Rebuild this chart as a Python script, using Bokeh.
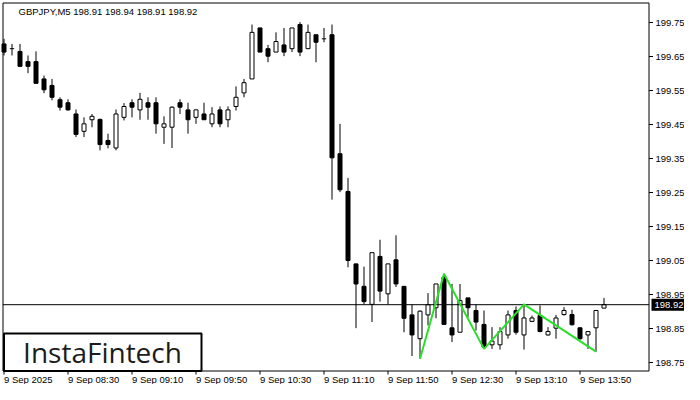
from bokeh.plotting import figure
from bokeh.models import Range1d
from bokeh.embed import file_html
from bokeh.resources import INLINE
from bokeh.core.properties import value

title_text = "GBPJPY,M5  198.91 198.94 198.91 198.92"
logo_text = "InstaFintech"

opens = [199.687, 199.673, 199.665, 199.635, 199.635, 199.584, 199.565, 199.523, 199.514, 199.481,
         199.430, 199.464, 199.465, 199.403, 199.381, 199.471, 199.514, 199.493, 199.514, 199.514,
         199.442, 199.442, 199.514, 199.493, 199.471, 199.481, 199.452, 199.493, 199.464, 199.503,
         199.543, 199.584, 199.734, 199.673, 199.663, 199.684, 199.673, 199.744, 199.673, 199.714,
         199.702, 199.714, 199.364, 199.253, 199.040, 198.974, 198.921, 199.062, 198.952, 199.052,
         198.974, 198.890, 198.820, 198.890, 198.911, 199.001, 198.852, 198.839, 198.940, 198.903,
         198.862, 198.802, 198.802, 198.831, 198.903, 198.831, 198.871, 198.888, 198.831, 198.851,
         198.891, 198.891, 198.852, 198.831, 198.852, 198.910]

highs = [199.702, 199.687, 199.687, 199.653, 199.665, 199.594, 199.584, 199.530, 199.524, 199.494,
         199.471, 199.481, 199.467, 199.423, 199.494, 199.513, 199.524, 199.543, 199.530, 199.530,
         199.474, 199.503, 199.524, 199.514, 199.493, 199.514, 199.501, 199.503, 199.503, 199.562,
         199.584, 199.744, 199.734, 199.684, 199.721, 199.734, 199.734, 199.751, 199.744, 199.714,
         199.734, 199.744, 199.452, 199.293, 199.040, 199.032, 199.073, 199.111, 199.040, 199.124,
         198.974, 198.921, 198.903, 198.954, 198.981, 199.011, 198.981, 198.981, 198.940, 198.921,
         198.903, 198.854, 198.854, 198.903, 198.915, 198.921, 198.888, 198.918, 198.854, 198.890,
         198.913, 198.905, 198.854, 198.841, 198.903, 198.940]

lows = [199.653, 199.653, 199.621, 199.601, 199.571, 199.542, 199.521, 199.491, 199.491, 199.413,
        199.413, 199.442, 199.374, 199.380, 199.374, 199.462, 199.471, 199.464, 199.464, 199.423,
        199.393, 199.381, 199.481, 199.423, 199.452, 199.464, 199.442, 199.442, 199.442, 199.491,
        199.530, 199.584, 199.663, 199.633, 199.663, 199.651, 199.663, 199.651, 199.673, 199.633,
        199.692, 199.229, 199.251, 199.030, 198.851, 198.921, 198.869, 198.929, 198.921, 198.972,
        198.839, 198.769, 198.761, 198.859, 198.880, 198.862, 198.810, 198.839, 198.883, 198.844,
        198.790, 198.790, 198.788, 198.820, 198.832, 198.788, 198.869, 198.839, 198.829, 198.820,
        198.888, 198.859, 198.817, 198.790, 198.782, 198.910]

closes = [199.663, 199.673, 199.621, 199.621, 199.571, 199.552, 199.530, 199.501, 199.493, 199.421,
          199.452, 199.474, 199.391, 199.391, 199.481, 199.503, 199.501, 199.524, 199.501, 199.452,
          199.452, 199.501, 199.501, 199.464, 199.493, 199.464, 199.481, 199.452, 199.493, 199.530,
          199.573, 199.721, 199.663, 199.651, 199.694, 199.663, 199.734, 199.663, 199.721, 199.692,
          199.702, 199.352, 199.258, 199.050, 198.981, 198.929, 199.073, 198.960, 199.040, 198.981,
          198.880, 198.831, 198.901, 198.920, 198.981, 198.862, 198.831, 198.932, 198.911, 198.869,
          198.795, 198.813, 198.841, 198.890, 198.839, 198.881, 198.881, 198.841, 198.841, 198.881,
          198.903, 198.861, 198.820, 198.841, 198.903, 198.920]

tick_bars = [0, 8, 16, 24, 32, 40, 48, 56, 64, 72]
tick_labels = ["9 Sep 2025", "9 Sep 08:30", "9 Sep 09:10", "9 Sep 09:50", "9 Sep 10:30",
               "9 Sep 11:10", "9 Sep 11:50", "9 Sep 12:30", "9 Sep 13:10", "9 Sep 13:50"]
price_ticks = [198.75, 198.85, 198.95, 199.05, 199.15, 199.25, 199.35, 199.45, 199.55, 199.65, 199.75]

pattern_bars = [52, 55, 60, 65, 74]
pattern_prices = [198.761, 199.011, 198.790, 198.921, 198.782]

last_price = 198.92

# ---- layout (pixels on the canvas) ----
W, H = 684, 384
PXB = 8.0          # pixels per bar
PXU = 340.0        # pixels per price unit
X0 = -3.5 / PXB    # bar 0 sits at canvas x = 3.5
YT = 199.75 + 22.0 / PXU   # price 199.75 sits at canvas y = 22


def dx(px):
    return X0 + px / PXB


def dy(py):
    return YT - py / PXU


BOX_L, BOX_R, BOX_T, BOX_B = 2.5, 648.5, 2.5, 370.5
FONT = value("Liberation Sans")
FS = value("9.5px")

p = figure(width=W, height=H, output_backend="svg", toolbar_location=None, tools="",
           x_range=Range1d(dx(0), dx(W)), y_range=Range1d(dy(H), dy(0)),
           x_axis_location=None, y_axis_location=None, min_border=0)
p.outline_line_color = None
p.background_fill_color = "white"
p.border_fill_color = "white"
for g in p.grid:
    g.visible = False

# chart frame
p.quad(left=[dx(BOX_L)], right=[dx(BOX_R)], top=[dy(BOX_T)], bottom=[dy(BOX_B)],
       fill_color=None, line_color="black", line_width=1)

# candles
n = len(opens)
bars = list(range(n))
p.segment(x0=bars, y0=lows, x1=bars, y1=highs, line_color="black", line_width=1)

bx, btop, bbot, bfill = [], [], [], []
dx0, dx1, dyy = [], [], []
for i, (o, c) in enumerate(zip(opens, closes)):
    if abs(o - c) < 0.0005:
        dx0.append(i - 0.27)
        dx1.append(i + 0.27)
        dyy.append(o)
    else:
        bx.append(i)
        btop.append(max(o, c))
        bbot.append(min(o, c))
        bfill.append("white" if c > o else "black")
p.vbar(x=bx, width=0.5, top=btop, bottom=bbot, fill_color=bfill,
       line_color="black", line_width=1)
p.segment(x0=dx0, y0=dyy, x1=dx1, y1=dyy, line_color="black", line_width=1)

# current price line
p.segment(x0=[dx(BOX_L)], x1=[dx(BOX_R)], y0=[last_price], y1=[last_price],
          line_color="black", line_width=1)

# pattern
p.line(pattern_bars, pattern_prices, line_color="#28e028", line_width=2)

# bottom axis: ticks and left-aligned labels
p.segment(x0=tick_bars, x1=tick_bars, y0=[dy(BOX_B)] * len(tick_bars),
          y1=[dy(BOX_B + 3.5)] * len(tick_bars), line_color="black", line_width=1)
p.text(x=tick_bars, y=[dy(373)] * len(tick_bars), text=tick_labels,
       text_align="left", text_baseline="top", text_font=FONT, text_font_size=FS,
       text_color="black")

# right axis: ticks and labels
p.segment(x0=[dx(BOX_R)] * len(price_ticks), x1=[dx(BOX_R + 4)] * len(price_ticks),
          y0=price_ticks, y1=price_ticks, line_color="black", line_width=1)
p.text(x=[dx(655)] * len(price_ticks), y=price_ticks, text=[f"{t:.2f}" for t in price_ticks],
       text_align="left", text_baseline="middle", text_font=FONT, text_font_size=FS,
       text_color="black")

# current price tag
p.quad(left=[dx(651)], right=[dx(W)], top=[last_price + 6 / PXU], bottom=[last_price - 6 / PXU],
       fill_color="black", line_color=None)
p.text(x=[dx(654)], y=[last_price], text=[f"{last_price:.2f}"], text_align="left",
       text_baseline="middle", text_font=FONT, text_font_size=FS, text_color="white")

# symbol title
p.text(x=[dx(18)], y=[dy(10.5)], text=[title_text], text_align="left", text_baseline="middle",
       text_font=FONT, text_font_size=FS, text_color="black")

# logo
p.quad(left=[dx(3.5)], right=[dx(201)], top=[dy(333)], bottom=[dy(BOX_B)],
       fill_color="white", line_color="black", line_width=2)
p.text(x=[dx(102)], y=[dy(351)], text=[logo_text], text_align="center",
       text_baseline="middle", text_font=value("Open Sans"), text_font_size=value("28px"),
       text_color="#1c1c1c")

open("out.html", "w").write(file_html(p, INLINE))
